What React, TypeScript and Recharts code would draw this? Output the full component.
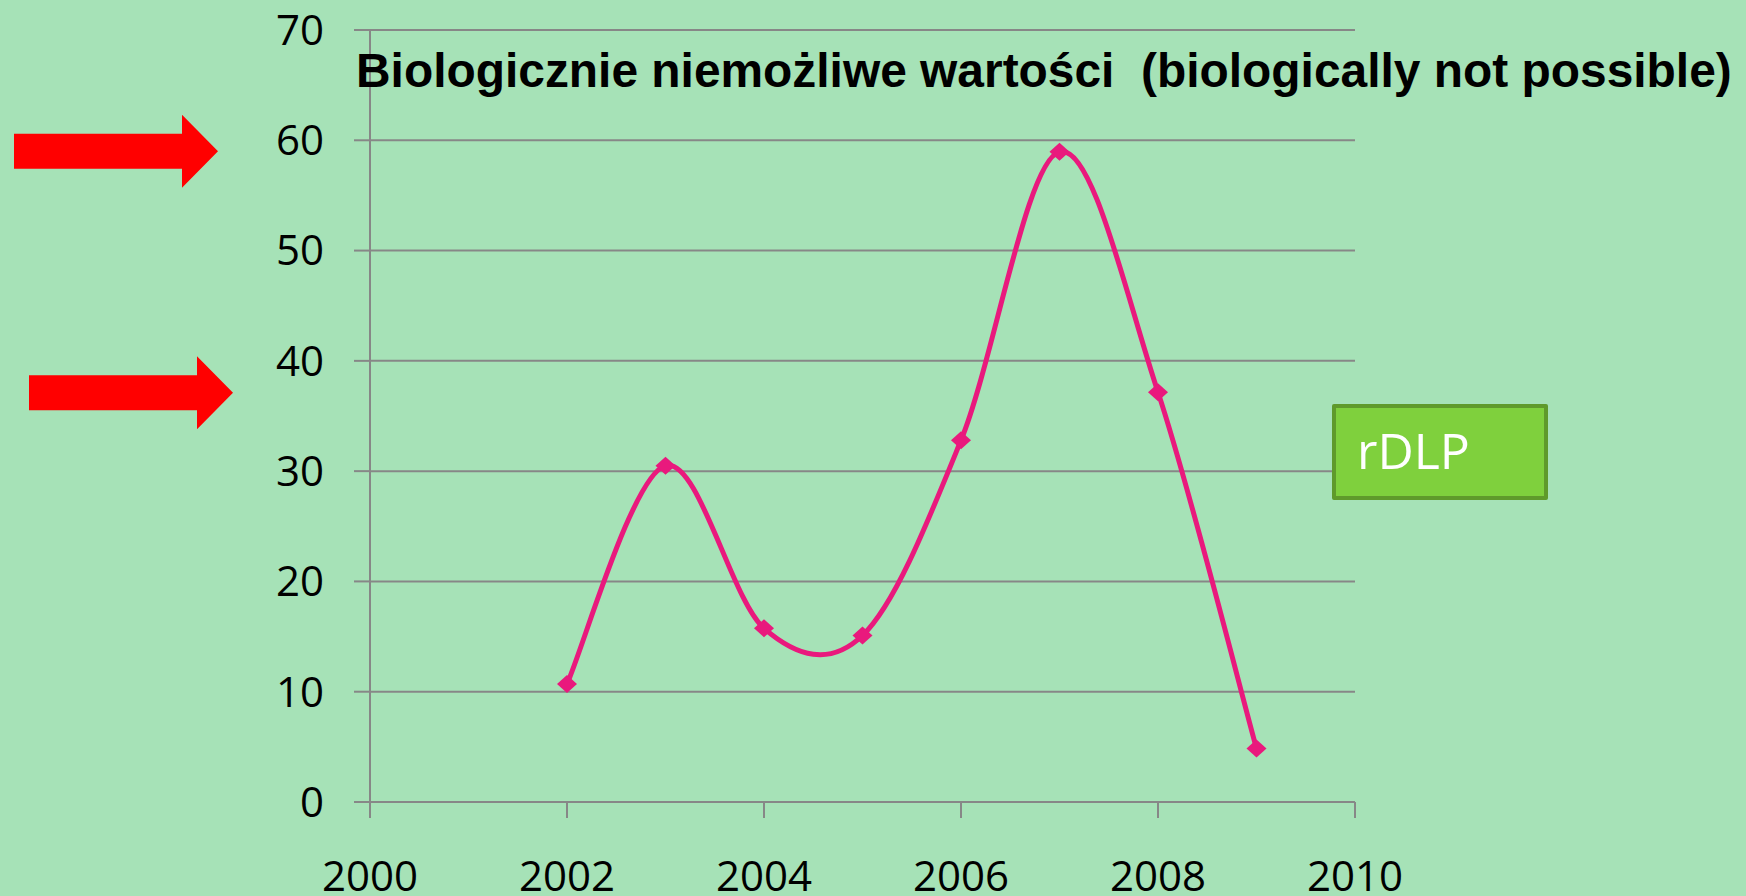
import React from 'react';
import {
  CartesianGrid,
  Legend,
  Line,
  LineChart,
  ReferenceDot,
  XAxis,
  YAxis,
} from 'recharts';

// values
const years: number[] = [2002, 2003, 2004, 2005, 2006, 2007, 2008, 2009];
const rdlpValues: number[] = [10.7, 30.5, 15.75, 15.1, 32.8, 58.95, 37.15, 4.85];
const xTicks: number[] = [2000, 2002, 2004, 2006, 2008, 2010];
const yTicks: number[] = [0, 10, 20, 30, 40, 50, 60, 70];
const arrowValues: number[] = [59, 37.1];
const seriesName = 'rDLP';
const title = 'Biologicznie niemożliwe wartości  (biologically not possible)';

const data = years.map((year, i) => ({ year, value: rdlpValues[i] }));

const WIDTH = 1746;
const HEIGHT = 896;
const BG = '#a6e2b7';
const GRID = '#878787';
const PINK = '#e9197d';
const TICK_FONT = '"Open Sans", "Liberation Sans", sans-serif';

// Excel-like smoothed line (Catmull-Rom through the points)
function excelSmooth(context: any) {
  let xs: number[] = [];
  let ys: number[] = [];
  return {
    areaStart() {},
    areaEnd() {},
    lineStart() {
      xs = [];
      ys = [];
    },
    lineEnd() {
      const n = xs.length;
      if (!n) return;
      context.moveTo(xs[0], ys[0]);
      for (let i = 0; i < n - 1; i += 1) {
        const a = Math.max(i - 1, 0);
        const d = Math.min(i + 2, n - 1);
        const c1x = xs[i] + (xs[i + 1] - xs[a]) / 6;
        const c1y = ys[i] + (ys[i + 1] - ys[a]) / 6;
        const c2x = xs[i + 1] - (xs[d] - xs[i]) / 6;
        const c2y = ys[i + 1] - (ys[d] - ys[i]) / 6;
        context.bezierCurveTo(c1x, c1y, c2x, c2y, xs[i + 1], ys[i + 1]);
      }
    },
    point(x: number, y: number) {
      xs.push(+x);
      ys.push(+y);
    },
  };
}

function Diamond(props: any) {
  const { cx, cy, index } = props;
  if (cx == null || cy == null) return null;
  const w = 10;
  const h = 9;
  return (
    <polygon
      key={`d-${index}`}
      points={`${cx},${cy - h} ${cx + w},${cy} ${cx},${cy + h} ${cx - w},${cy}`}
      fill={PINK}
    />
  );
}

// red block arrows left of the axis, tip offset from the axis line
const arrowTipOffsets: number[] = [152, 137];

function makeArrow(tipOffset: number) {
  return function Arrow(props: any) {
    const { cx, cy } = props;
    if (cx == null || cy == null) return null;
    const tip = cx - tipOffset;
    const headLen = 36;
    const len = 204;
    const shaft = 17.5;
    const head = 36.5;
    const pts = [
      [tip - len, cy - shaft],
      [tip - headLen, cy - shaft],
      [tip - headLen, cy - head],
      [tip, cy],
      [tip - headLen, cy + head],
      [tip - headLen, cy + shaft],
      [tip - len, cy + shaft],
    ]
      .map((p) => p.join(','))
      .join(' ');
    return <polygon points={pts} fill="#ff0000" />;
  };
}

function LegendBox() {
  return (
    <div
      style={{
        width: 208,
        height: 88,
        background: '#7fd03d',
        border: '4px solid #5f9a2b',
        borderRadius: 2,
        boxSizing: 'content-box',
        position: 'relative',
      }}
    >
      <span
        style={{
          position: 'absolute',
          left: 21,
          top: 12,
          color: '#ffffff',
          fontFamily: TICK_FONT,
          fontSize: 50,
          lineHeight: '60px',
        }}
      >
        {seriesName}
      </span>
    </div>
  );
}

export default function App() {
  return (
    <div
      style={{
        position: 'absolute',
        left: 0,
        top: 0,
        width: WIDTH,
        height: HEIGHT,
        background: BG,
        overflow: 'hidden',
      }}
    >
      <LineChart
        width={WIDTH}
        height={HEIGHT}
        data={data}
        margin={{ top: 30, right: 391, bottom: 0, left: 0 }}
      >
        <CartesianGrid vertical={false} stroke={GRID} strokeWidth={2} />
        <XAxis
          dataKey="year"
          type="number"
          domain={[2000, 2010]}
          ticks={xTicks}
          height={94}
          tickSize={16}
          tickMargin={43}
          stroke={GRID}
          strokeWidth={2}
          tick={{ fill: '#000', fontSize: 42, fontFamily: TICK_FONT }}
        />
        <YAxis
          domain={[0, 70]}
          ticks={yTicks}
          width={370}
          tickSize={16}
          tickMargin={30}
          stroke={GRID}
          strokeWidth={2}
          tick={{ fill: '#000', fontSize: 42, fontFamily: TICK_FONT }}
        />
        <Legend
          layout="vertical"
          align="center"
          verticalAlign="middle"
          wrapperStyle={{ position: 'absolute', left: 1332, top: 404, width: 216, height: 96 }}
          content={() => <LegendBox />}
        />
        {arrowValues.map((v, i) => (
          <ReferenceDot
            key={`arrow-${i}`}
            x={2000}
            y={v}
            ifOverflow="visible"
            shape={makeArrow(arrowTipOffsets[i])}
          />
        ))}
        <Line
          type={excelSmooth as any}
          dataKey="value"
          name={seriesName}
          stroke={PINK}
          strokeWidth={5}
          dot={Diamond}
          activeDot={false}
          isAnimationActive={false}
        />
      </LineChart>
      <svg
        width={WIDTH}
        height={HEIGHT}
        style={{ position: 'absolute', left: 0, top: 0, pointerEvents: 'none' }}
      >
        <text
          x={356}
          y={87}
          fontFamily='"Liberation Sans", Arial, sans-serif'
          fontWeight="bold"
          fontSize={47.9}
          fill="#000"
          style={{ whiteSpace: 'pre' }}
        >
          {title}
        </text>
      </svg>
    </div>
  );
}
